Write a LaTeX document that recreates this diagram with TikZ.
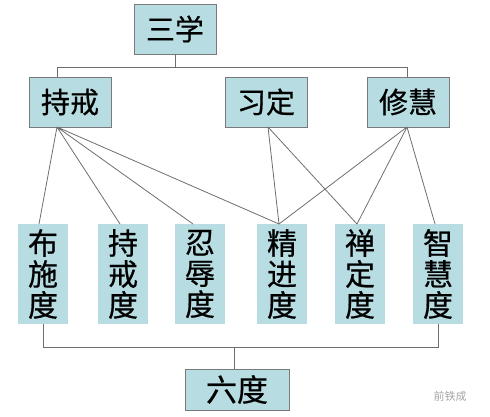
\documentclass[tikz,border=0pt]{standalone}
\usepackage{fontspec}
\newfontfamily\cjk[FakeBold=0.6]{Noto Sans CJK SC}
\newfontfamily\cjkplain{Noto Sans CJK SC}
\definecolor{boxfill}{HTML}{B7DDE3}
\definecolor{boxline}{HTML}{7A7A7A}
\definecolor{conn}{HTML}{6E6E6E}
\begin{document}
\begin{tikzpicture}[x=1pt,y=-1pt,
  topbox/.style={draw=boxline,line width=0.9pt,fill=boxfill,inner sep=0pt,minimum width=82pt,minimum height=50pt,font=\cjk\fontsize{29}{30}\selectfont},
  vbox/.style={fill=boxfill,inner sep=0pt,minimum width=50pt,minimum height=100pt,align=center,font=\cjk\fontsize{30}{31}\selectfont},
  conline/.style={draw=conn,line width=0.8pt}]
\useasboundingbox (0,0) rectangle (490,417);
% top
\node[topbox] (sx) at (175,29) {三学};
\node[topbox] (jj) at (70,102) {持戒};
\node[topbox] (xd) at (266,102) {习定};
\node[topbox] (xh) at (408,102) {修慧};
% bottom six
\node[vbox] (b1) at (43,274) {布\\施\\度};
\node[vbox] (b2) at (123,274) {持\\戒\\度};
\node[vbox] (b3) at (200,274) {忍\\辱\\度};
\node[vbox] (b4) at (282,274) {精\\进\\度};
\node[vbox] (b5) at (360,274) {禅\\定\\度};
\node[vbox] (b6) at (438,274) {智\\慧\\度};
\node[topbox,minimum width=104pt,minimum height=41pt,font=\cjk\fontsize{31}{32}\selectfont] (ld) at (237,389.5) {六度};
% fan origins
\coordinate (jjo) at (57,127);
\coordinate (xdo) at (268,127);
\coordinate (xho) at (407,127);
\coordinate (t1) at (39,224);
\coordinate (t2) at (120,224);
\coordinate (t3) at (193,224);
\coordinate (t4) at (279,224);
\coordinate (t5) at (357,224);
\coordinate (t6) at (435,224);
% top connectors
\draw[conline] (sx.south) -- (175,67) -| (jjo|-jj.north);
\draw[conline] (175,67) -| (xho|-xh.north);
% fans
\draw[conline] (jjo) -- (t1) (jjo) -- (t2) (jjo) -- (t3) (jjo) -- (t4);
\draw[conline] (xdo) -- (t4) (xdo) -- (t5);
\draw[conline] (xho) -- (t4) (xho) -- (t5) (xho) -- (t6);
% bottom connectors
\draw[conline] (b1.south) -- (43,347) -| (b6.south);
\draw[conline] (234,347) -- (234,369);
% watermark
\node[font=\cjkplain\fontsize{11}{12}\selectfont,text=gray!70] (wm) at (450,396) {前铁成};
\end{tikzpicture}
\end{document}
